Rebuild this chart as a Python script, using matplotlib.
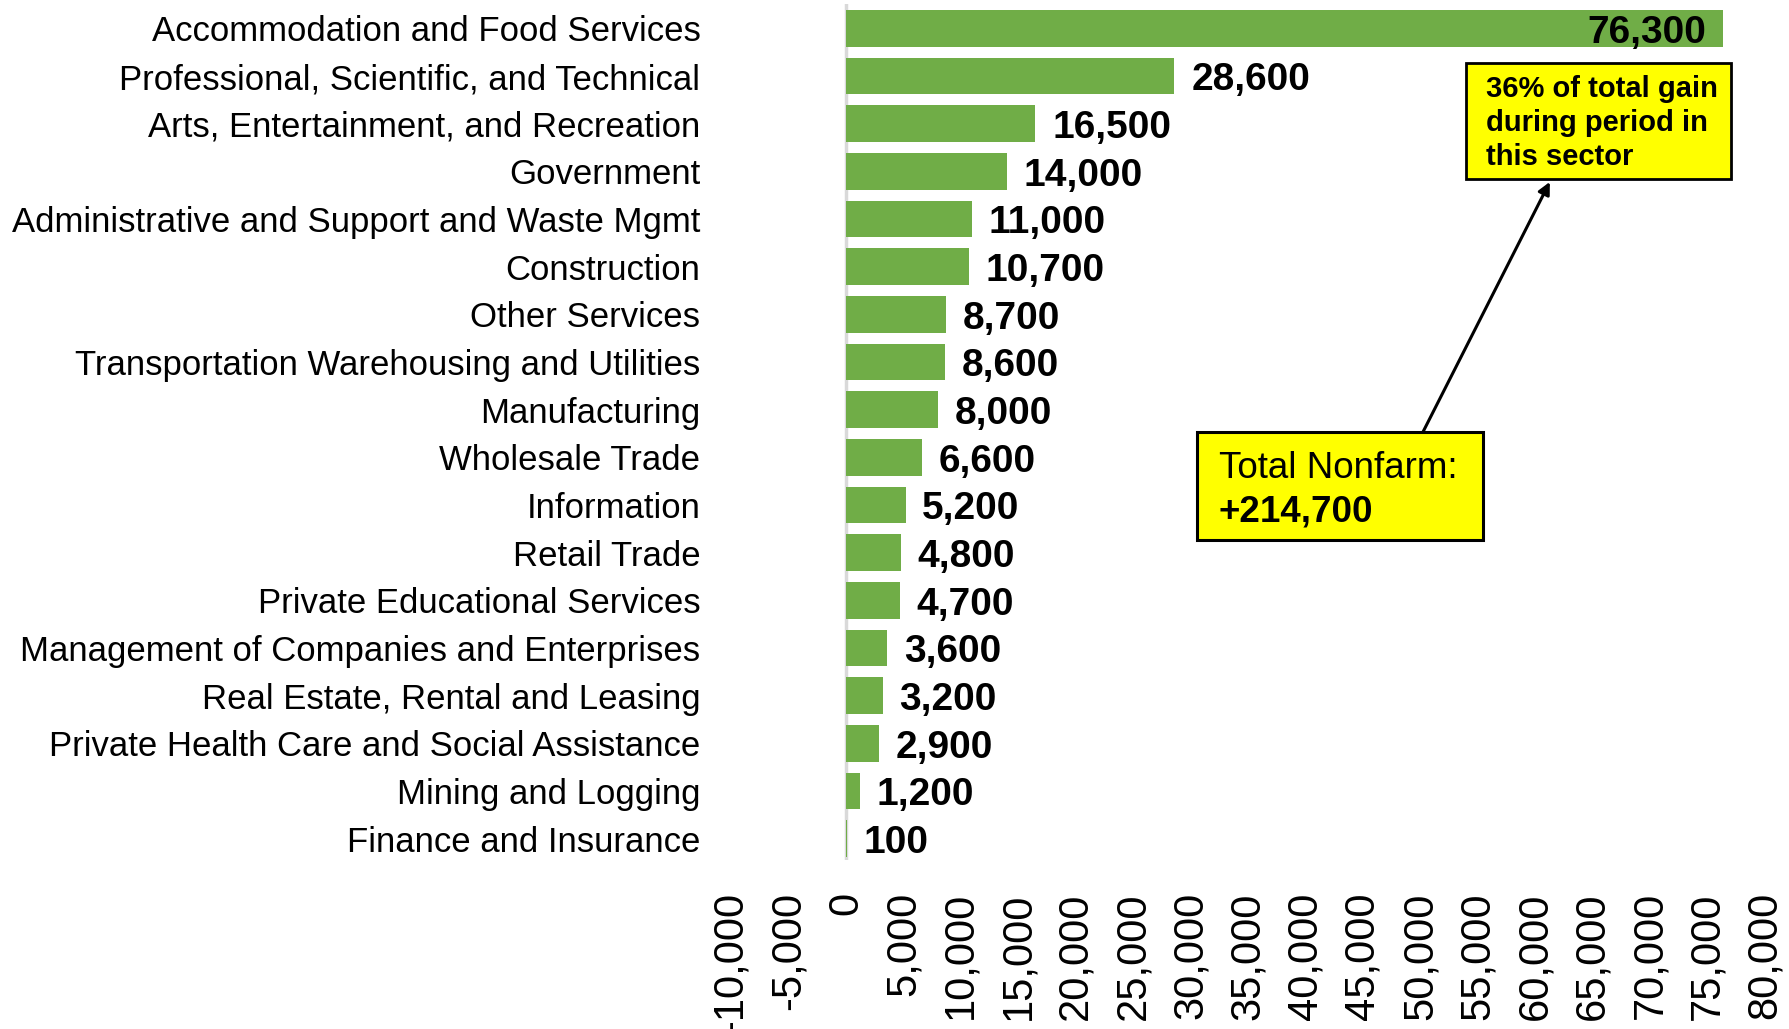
import matplotlib.pyplot as plt
import matplotlib.ticker as mticker
from matplotlib.patches import Rectangle

plt.rcParams['font.family'] = ['Liberation Sans', 'DejaVu Sans']

sectors = ['Accommodation and Food Services',
           'Professional, Scientific, and Technical',
           'Arts, Entertainment, and Recreation',
           'Government',
           'Administrative and Support and Waste Mgmt',
           'Construction',
           'Other Services',
           'Transportation Warehousing and Utilities',
           'Manufacturing',
           'Wholesale Trade',
           'Information',
           'Retail Trade',
           'Private Educational Services',
           'Management of Companies and Enterprises',
           'Real Estate, Rental and Leasing',
           'Private Health Care and Social Assistance',
           'Mining and Logging',
           'Finance and Insurance']
gains = [76300, 28600, 16500, 14000, 11000, 10700, 8700, 8600, 8000,
         6600, 5200, 4800, 4700, 3600, 3200, 2900, 1200, 100]
x_ticks = list(range(-10000, 80001, 5000))

share_note = '36% of total gain\nduring period in\nthis sector'
total_note = 'Total Nonfarm:'
total_value = '+214,700'

bar_color = '#70AD47'

fig = plt.figure(figsize=(17.89, 10.29), dpi=100)
ax = fig.add_axes([0.4086, 0.164, 0.578, 0.832])

pos = list(range(len(sectors)))
ax.barh(pos, gains, height=0.77, color=bar_color, zorder=2)

for p, g in zip(pos, gains):
    if g > 70000:
        ax.annotate(f'{g:,}', (g, p), xytext=(-12, -3), textcoords='offset points',
                    ha='right', va='center', fontsize=28, fontweight='bold', zorder=3)
    else:
        ax.annotate(f'{g:,}', (g, p), xytext=(12, -3), textcoords='offset points',
                    ha='left', va='center', fontsize=28, fontweight='bold', zorder=3)

ax.axvline(0, color='#d9d9d9', lw=2.5, zorder=1)

ax.set_xlim(-10000, 80000)
ax.set_ylim(17.45, -0.51)
ax.set_yticks(pos)
ax.set_yticklabels(sectors, fontsize=25)
ax.set_xticks(x_ticks)
ax.xaxis.set_major_formatter(mticker.FuncFormatter(lambda v, _: f'{v:,.0f}'))
ax.tick_params(axis='x', labelsize=30, rotation=90, length=0, pad=23)
ax.tick_params(axis='y', length=0, pad=22)
for s in ax.spines.values():
    s.set_visible(False)

# callout boxes
ax.add_patch(Rectangle((53960, 0.72), 23064, 2.44, facecolor='yellow',
                       edgecolor='black', lw=2, zorder=4, clip_on=False))
ax.text(55700, 1.98, share_note, ha='left', va='center', fontsize=21,
        fontweight='bold', linespacing=1.27, zorder=5)

ax.add_patch(Rectangle((30550, 8.47), 24890, 2.27, facecolor='yellow',
                       edgecolor='black', lw=2.2, zorder=4, clip_on=False))
ax.text(32460, 9.23, total_note, ha='left', va='center', fontsize=26.5, zorder=5)
ax.text(32460, 10.15, total_value, ha='left', va='center', fontsize=26.5,
        fontweight='bold', zorder=5)

ax.annotate('', xy=(61270, 3.22), xytext=(50220, 8.47),
            arrowprops=dict(arrowstyle='-|>', color='black', lw=2.2,
                            mutation_scale=18, shrinkA=0, shrinkB=0), zorder=3)

fig.savefig('out.png', dpi=100)
